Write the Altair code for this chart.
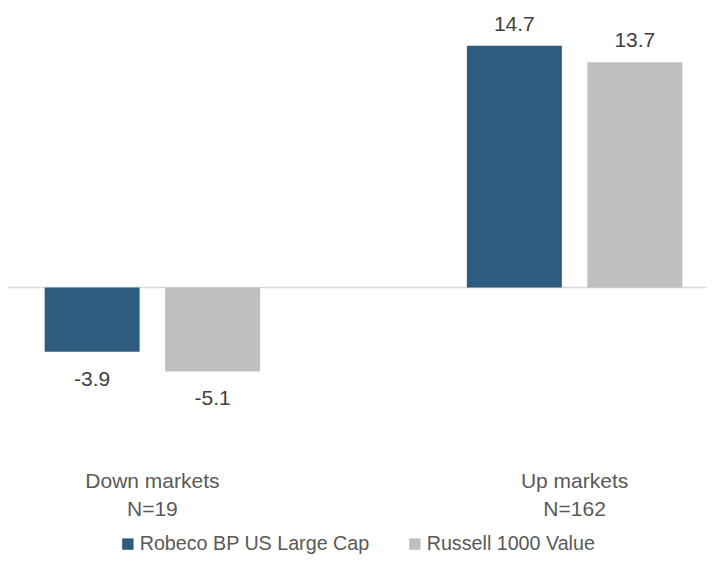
import altair as alt
import pandas as pd

groups = ["Down markets|N=19", "Up markets|N=162"]
series = ["Robeco BP US Large Cap", "Russell 1000 Value"]
robeco = [-3.9, 14.7]
russell = [-5.1, 13.7]
colors = ["#2E5C7E", "#BFBFBF"]

rows = []
for i, g in enumerate(groups):
    rows.append({"group": g, "series": series[0], "value": robeco[i]})
    rows.append({"group": g, "series": series[1], "value": russell[i]})
df = pd.DataFrame(rows)

FONT = "Liberation Sans"
FS = 21
W = 687
H = 444

x = alt.X("group:N", sort=groups, title=None,
          scale=alt.Scale(paddingInner=0.38, paddingOuter=0.0036),
          axis=alt.Axis(orient="bottom", domain=False, ticks=False, labelAngle=0,
                        labelExpr="split(datum.label, '|')", labelFontSize=FS,
                        labelFont=FONT, labelColor="#595959", labelPadding=18,
                        labelLineHeight=28, labelBaseline="top"))
xo = alt.XOffset("series:N", sort=series,
                 scale=alt.Scale(paddingInner=0.2116, paddingOuter=0.1921))
y = alt.Y("value:Q", scale=alt.Scale(domain=[-10, 17], nice=False, zero=True),
          axis=None)

base = alt.Chart(df).transform_calculate(
    label="replace(format(datum.value, '.1f'), '\u2212', '-')"
)

bars = base.mark_bar().encode(
    x=x, xOffset=xo, y=y,
    color=alt.Color("series:N", sort=series,
                    scale=alt.Scale(domain=series, range=colors),
                    legend=alt.Legend(title=None, orient="none", legendX=98, legendY=526,
                                      direction="horizontal", symbolType="square",
                                      symbolSize=130, labelFontSize=19.7, labelFont=FONT,
                                      labelColor="#595959", columnPadding=35,
                                      labelOffset=2, symbolStrokeWidth=0, labelLimit=0)),
)

zero = alt.Chart(pd.DataFrame({"v": [0]})).mark_rule(color="#D9D9D9", strokeWidth=1.5).encode(
    y=alt.Y("v:Q", scale=alt.Scale(domain=[-10, 17], nice=False), axis=None),
    x=alt.value(-12), x2=alt.value(W),
)

pos = base.transform_filter("datum.value >= 0").mark_text(
    dy=-15, baseline="alphabetic", fontSize=FS, font=FONT, color="#404040"
).encode(x=x, xOffset=xo, y=y, text="label:N")

neg = base.transform_filter("datum.value < 0").mark_text(
    dy=34, baseline="alphabetic", fontSize=FS, font=FONT, color="#404040"
).encode(x=x, xOffset=xo, y=y, text="label:N")

chart = alt.layer(zero, bars, pos, neg).properties(
    width=W, height=H,
    padding={"left": 12, "top": 0, "right": 0, "bottom": 103},
    autosize="none",
).configure_view(stroke=None)

chart.save("out.html", embed_options={"renderer": "svg", "actions": False})
